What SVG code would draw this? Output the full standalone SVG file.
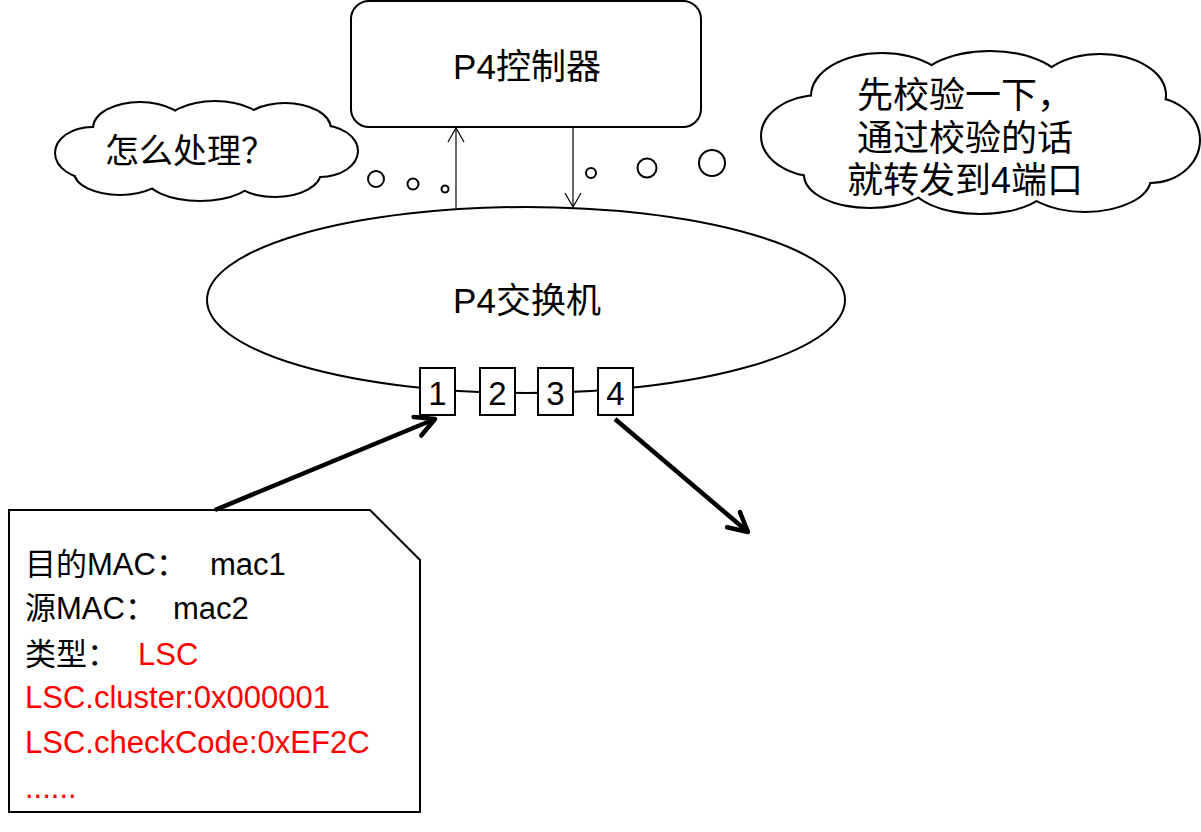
<svg xmlns="http://www.w3.org/2000/svg" xmlns:xlink="http://www.w3.org/1999/xlink" width="1201" height="832" viewBox="0 0 1201 832">
<style>
text{font-family:"Liberation Sans","Noto Sans CJK SC",sans-serif;fill:#000}
.lbl{font-size:35px;text-anchor:middle}
.cl{font-size:34px;font-family:"Noto Sans CJK SC",sans-serif}
.cr{font-size:36px;text-anchor:middle}
.port{font-size:33px;text-anchor:middle}
.pkt{font-size:31px}
.red{fill:#ff0000}
.shape{fill:#fff;stroke:#000;stroke-width:2}
.thin{stroke:#000;stroke-width:1.2;fill:none}
.thick{stroke:#000;stroke-width:4.5;fill:none}
</style>
<defs>
<marker id="ah" viewBox="-16 -10 18 20" refX="0" refY="0" markerWidth="18" markerHeight="20" markerUnits="userSpaceOnUse" orient="auto">
<path d="M-14,-8 L0,0 L-14,8" fill="none" stroke="#000" stroke-width="1.2"/>
</marker>
<marker id="ahb" viewBox="-24 -14 28 28" refX="0" refY="0" markerWidth="28" markerHeight="28" markerUnits="userSpaceOnUse" orient="auto">
<path d="M-19,-10 L0,0 L-19,10" fill="none" stroke="#000" stroke-width="4.5" stroke-linecap="round" stroke-linejoin="round"/>
</marker>
<g id="cloudL">
<ellipse cx="92" cy="153" rx="36" ry="25"/>
<ellipse cx="140" cy="128" rx="46" ry="25"/>
<ellipse cx="215" cy="127" rx="50" ry="25"/>
<ellipse cx="285" cy="129" rx="45" ry="25"/>
<ellipse cx="320" cy="151" rx="37" ry="25"/>
<ellipse cx="275" cy="172" rx="45" ry="24"/>
<ellipse cx="200" cy="175" rx="55" ry="25"/>
<ellipse cx="120" cy="172" rx="45" ry="22"/>
<ellipse cx="207" cy="152" rx="120" ry="35"/>
</g>
<g id="cloudR">
<ellipse cx="820" cy="136" rx="58" ry="40"/>
<ellipse cx="882" cy="96" rx="70" ry="42"/>
<ellipse cx="990" cy="90" rx="75" ry="38"/>
<ellipse cx="1100" cy="95" rx="65" ry="40"/>
<ellipse cx="1150" cy="140" rx="49" ry="42"/>
<ellipse cx="1085" cy="178" rx="65" ry="33"/>
<ellipse cx="980" cy="181" rx="70" ry="32"/>
<ellipse cx="870" cy="175" rx="65" ry="32"/>
<ellipse cx="980" cy="135" rx="180" ry="60"/>
</g>
</defs>

<g id="controller">
<rect class="shape" x="351" y="1" width="350" height="126" rx="18"/>
<text class="lbl" x="527" y="79">P4控制器</text>
</g>

<g id="switch">
<ellipse class="shape" cx="526" cy="300" rx="319" ry="93"/>
<text class="lbl" x="527" y="313">P4交换机</text>
</g>

<g id="port1"><rect class="shape" x="420" y="368" width="35" height="47"/><text class="port" x="437.5" y="405">1</text></g>
<g id="port2"><rect class="shape" x="480" y="368" width="35" height="47"/><text class="port" x="497.5" y="405">2</text></g>
<g id="port3"><rect class="shape" x="538" y="368" width="35" height="47"/><text class="port" x="555.5" y="405">3</text></g>
<g id="port4"><rect class="shape" x="598" y="368" width="35" height="47"/><text class="port" x="615.5" y="405">4</text></g>

<g id="thought-left">
<use xlink:href="#cloudL" href="#cloudL" fill="#fff" stroke="#000" stroke-width="4"/>
<use xlink:href="#cloudL" href="#cloudL" fill="#fff" stroke="none"/>
<circle cx="376" cy="179" r="8" class="shape"/>
<circle cx="413" cy="184" r="5.5" class="shape"/>
<circle cx="445" cy="189" r="3.5" class="shape"/>
<text class="cl" x="105" y="163">怎么处理？</text>
</g>

<g id="thought-right">
<use xlink:href="#cloudR" href="#cloudR" fill="#fff" stroke="#000" stroke-width="4"/>
<use xlink:href="#cloudR" href="#cloudR" fill="#fff" stroke="none"/>
<circle cx="591" cy="173" r="5" class="shape"/>
<circle cx="647" cy="168" r="9.5" class="shape"/>
<circle cx="712" cy="163" r="13" class="shape"/>
<text class="cr" x="965" y="108">先校验一下，</text>
<text class="cr" x="965" y="151">通过校验的话</text>
<text class="cr" x="965" y="193">就转发到4端口</text>
</g>

<g id="packet">
<path class="shape" d="M9,510 L370,510 L420,560 L420,812 L9,812 Z"/>
<text class="pkt" x="25" y="575">目的MAC：<tspan x="210">mac1</tspan></text>
<text class="pkt" x="25" y="619">源MAC：<tspan x="173">mac2</tspan></text>
<text class="pkt" x="25" y="665">类型：<tspan class="red" x="138">LSC</tspan></text>
<text class="pkt red" x="25" y="708">LSC.cluster:0x000001</text>
<text class="pkt red" x="25" y="753">LSC.checkCode:0xEF2C</text>
<text class="pkt red" x="25" y="798">......</text>
</g>

<g id="connectors">
<line class="thin" x1="456" y1="208" x2="456" y2="128" marker-end="url(#ah)"/>
<line class="thin" x1="573" y1="127" x2="573" y2="207" marker-end="url(#ah)"/>
<line class="thick" x1="215" y1="510" x2="435" y2="419" marker-end="url(#ahb)"/>
<line class="thick" x1="615" y1="419" x2="748" y2="532" marker-end="url(#ahb)"/>
</g>
</svg>
